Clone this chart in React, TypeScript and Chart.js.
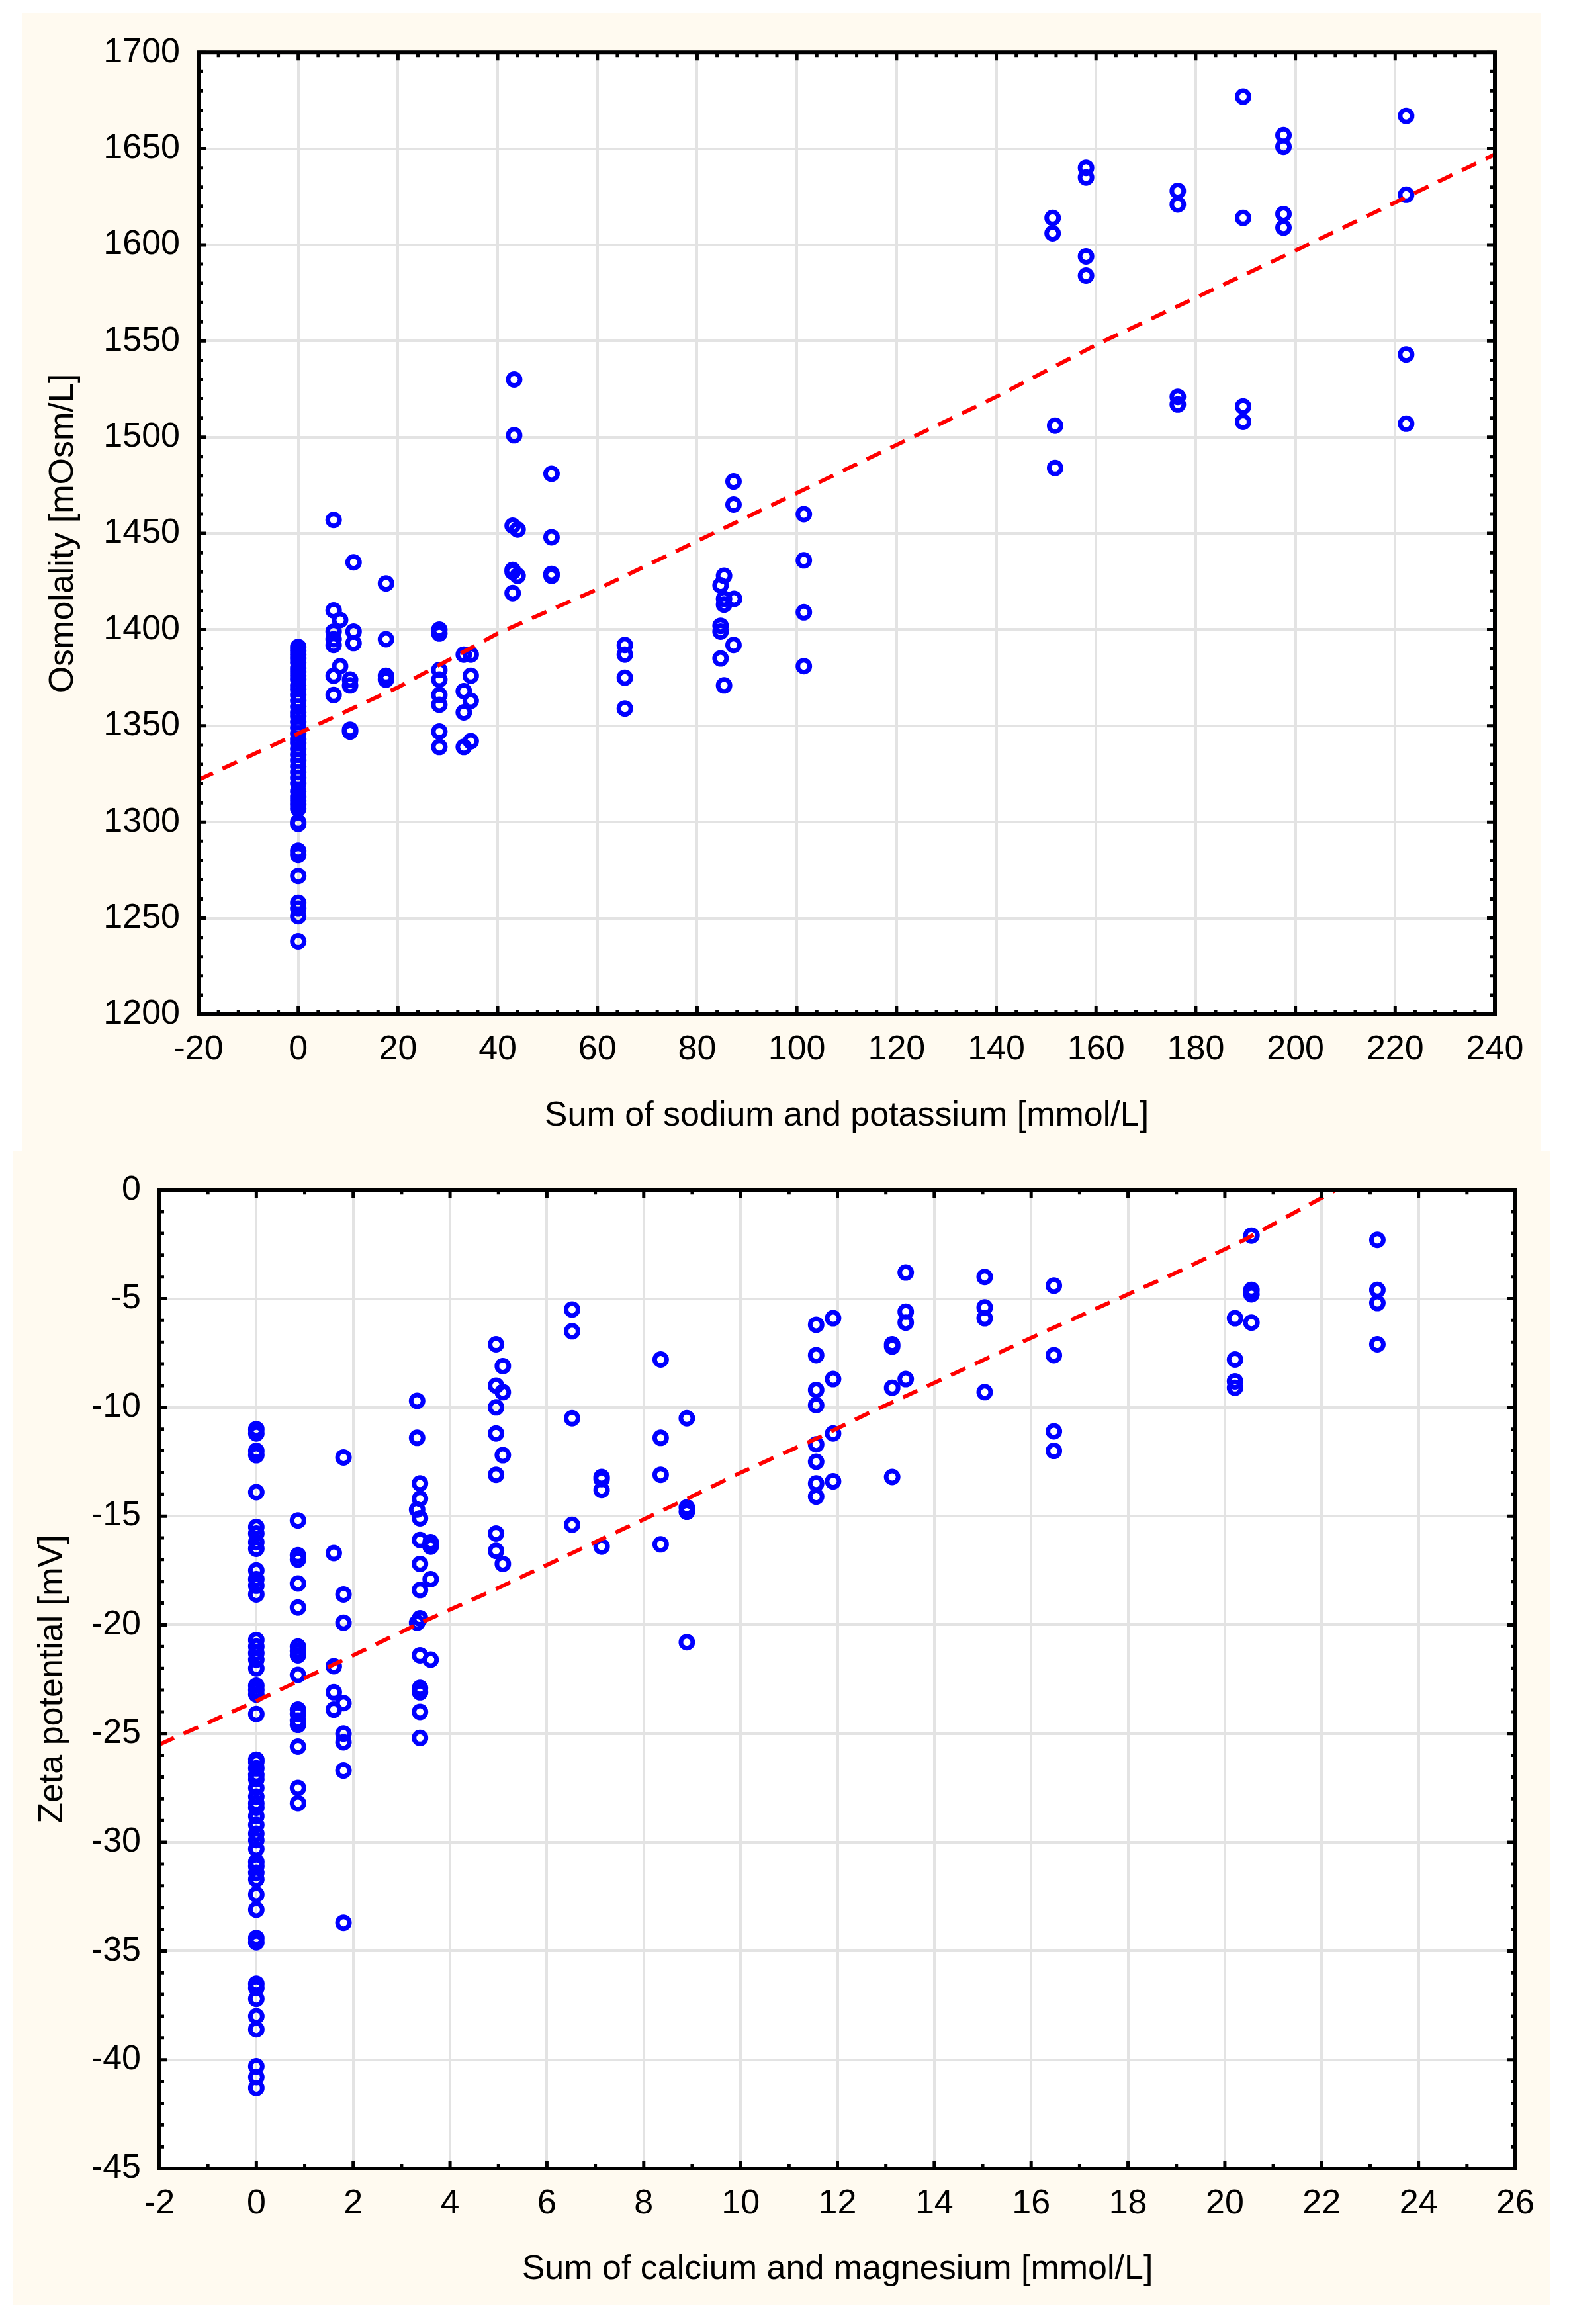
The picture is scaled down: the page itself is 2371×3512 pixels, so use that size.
import { useEffect, useRef } from "react";
import { Chart, registerables } from "chart.js";

Chart.register(...registerables);

const FONT = '"Liberation Sans", Arial, sans-serif';
const CREAM = "#fffaf0";

// ---------- top panel: osmolality [mOsm/L] vs sum of Na + K [mmol/L] ----------
// column at Na+K = 0
const osmAtZero = [
  1391, 1389, 1387, 1385, 1383, 1380, 1378, 1376, 1374, 1371, 1369, 1366, 1363, 1360,
  1357, 1355, 1352, 1349, 1346, 1343, 1341, 1338, 1335, 1332, 1329, 1326, 1323, 1320,
  1316, 1313, 1311, 1309, 1307, 1300, 1299, 1285, 1283, 1272, 1258, 1255, 1251, 1238,
];
const osmLow: [number, number][] = [
  [7.1, 1457], [11.1, 1435], [17.6, 1424], [7.1, 1410], [8.4, 1405], [7.1, 1399],
  [7.1, 1395], [7.1, 1392], [11.1, 1399], [11.1, 1393], [17.6, 1395], [8.4, 1381],
  [7.1, 1376], [10.4, 1374], [10.4, 1371], [7.1, 1366], [17.6, 1376], [17.6, 1374],
  [10.4, 1348], [10.4, 1347],
  [28.3, 1400], [28.3, 1398], [28.3, 1379], [28.3, 1374], [28.3, 1366], [28.3, 1361],
  [28.3, 1347], [28.3, 1339],
  [33.2, 1387], [34.6, 1387], [34.6, 1376], [33.2, 1368], [34.6, 1363], [33.2, 1357],
  [34.6, 1342], [33.2, 1339],
];
const osmMid: [number, number][] = [
  [43.3, 1530], [43.3, 1501], [43, 1454], [44, 1452], [43, 1431], [43, 1430], [44, 1428],
  [43, 1419],
  [50.8, 1481], [50.8, 1448], [50.8, 1429], [50.8, 1428],
  [65.5, 1392], [65.5, 1387], [65.5, 1375], [65.5, 1359],
  [87.3, 1477], [87.3, 1465], [85.4, 1428], [84.7, 1423], [85.4, 1416], [87.4, 1416],
  [85.4, 1413], [84.7, 1402], [84.7, 1399], [87.3, 1392], [84.7, 1385], [85.4, 1371],
  [101.4, 1460], [101.4, 1436], [101.4, 1409], [101.4, 1381],
];
const osmHigh: [number, number][] = [
  [151.3, 1614], [151.3, 1606], [151.8, 1506], [151.8, 1484],
  [158, 1640], [158, 1635], [158, 1594], [158, 1584],
  [176.4, 1628], [176.4, 1621], [176.4, 1521], [176.4, 1517],
  [189.5, 1677], [189.5, 1614], [189.5, 1516], [189.5, 1508],
  [197.6, 1657], [197.6, 1651], [197.6, 1616], [197.6, 1609],
  [222.2, 1667], [222.2, 1626], [222.2, 1543], [222.2, 1507],
];
const osmFitX = [-20, 0, 20, 40, 60, 80, 100, 120, 140, 160, 200, 240];
const osmFitY = [1322, 1346, 1370, 1398, 1421, 1446, 1471, 1496, 1521, 1548, 1597, 1647];

// ---------- bottom panel: zeta potential [mV] vs sum of Ca + Mg [mmol/L] ----------
const zetaAtZero = [
  -11.0, -11.2, -12.0, -12.2, -13.9, -15.5, -15.8, -16.2, -16.5, -17.5, -17.9, -18.2,
  -18.6, -20.7, -21.0, -21.3, -21.6, -22.0, -22.8, -23.0, -23.2, -24.1, -26.2, -26.3,
  -26.6, -26.9, -27.1, -27.5, -27.9, -28.2, -28.4, -28.8, -29.2, -29.6, -29.9, -30.3,
  -30.9, -31.1, -31.4, -31.7, -32.4, -33.1, -34.4, -34.6, -36.5, -36.7, -37.2, -38.0,
  -38.6, -40.3, -40.8, -41.3,
];
const zetaAtOne = [
  -15.2, -16.8, -17.0, -18.1, -19.2, -21.0, -21.2, -21.4, -22.3, -23.9, -24.1, -24.4,
  -24.6, -25.6, -27.5, -28.2,
];
const zetaLow: [number, number][] = [
  [1.6, -16.7], [1.6, -21.9], [1.6, -23.1], [1.6, -23.9],
  [1.8, -12.3], [1.8, -18.6], [1.8, -19.9], [1.8, -23.6], [1.8, -25.0], [1.8, -25.4],
  [1.8, -26.7], [1.8, -33.7],
  [3.32, -9.7], [3.32, -11.4], [3.38, -13.5], [3.38, -14.2], [3.32, -14.7], [3.38, -15.1],
  [3.38, -16.1], [3.6, -16.2], [3.6, -16.4], [3.38, -17.2], [3.6, -17.9], [3.38, -18.4],
  [3.38, -19.7], [3.32, -19.9], [3.38, -21.4], [3.6, -21.6], [3.38, -22.9], [3.38, -23.1],
  [3.38, -24.0], [3.38, -25.2],
];
const zetaMid: [number, number][] = [
  [4.95, -7.1], [5.09, -8.1], [4.95, -9.0], [5.09, -9.3], [4.95, -10.0], [4.95, -11.2],
  [5.09, -12.2], [4.95, -13.1], [4.95, -15.8], [4.95, -16.6], [5.09, -17.2],
  [6.52, -5.5], [6.52, -6.5], [6.52, -10.5], [6.52, -15.4],
  [7.13, -13.2], [7.13, -13.3], [7.13, -13.8], [7.13, -16.4],
  [8.35, -7.8], [8.35, -11.4], [8.35, -13.1], [8.35, -16.3],
  [8.89, -10.5], [8.89, -14.6], [8.89, -14.8], [8.89, -20.8],
];
const zetaHigh: [number, number][] = [
  [11.56, -6.2], [11.56, -7.6], [11.56, -9.2], [11.56, -9.9], [11.56, -11.7], [11.56, -12.5],
  [11.56, -13.5], [11.56, -14.1], [11.91, -5.9], [11.91, -8.7], [11.91, -11.2], [11.91, -13.4],
  [13.13, -7.1], [13.13, -7.2], [13.13, -9.1], [13.13, -13.2],
  [13.41, -3.8], [13.41, -5.6], [13.41, -6.1], [13.41, -8.7],
  [15.04, -4.0], [15.04, -5.4], [15.04, -5.9], [15.04, -9.3],
  [16.47, -4.4], [16.47, -7.6], [16.47, -11.1], [16.47, -12.0],
  [20.21, -5.9], [20.21, -7.8], [20.21, -8.8], [20.21, -9.1],
  [20.55, -2.1], [20.55, -4.6], [20.55, -4.8], [20.55, -6.1],
  [23.15, -2.3], [23.15, -4.6], [23.15, -5.2], [23.15, -7.1],
];
const zetaFitX = [-2, 0, 2, 3.3, 5, 6.9, 8.9, 10, 11.6, 12.7, 13.2, 16, 19, 20.4, 22.3];
const zetaFitY = [-25.5, -23.5, -21.4, -20.0, -18.3, -16.3, -14.2, -13.0, -11.4, -10.2, -9.7, -6.8, -3.8, -2.3, 0];

const toXY = (pairs: [number, number][]) => pairs.map(([x, y]) => ({ x, y }));
const column = (x: number, ys: number[]) => ys.map((y) => ({ x, y }));

// white plot background, black frame and inward tick marks on all four sides
const framePlugin = {
  id: "frame",
  beforeDraw(chart: any) {
    const { ctx, chartArea: a } = chart;
    ctx.save();
    ctx.fillStyle = "#ffffff";
    ctx.fillRect(a.left, a.top, a.width, a.height);
    ctx.restore();
  },
  afterDraw(chart: any, _args: any, opts: any) {
    const { ctx, chartArea: a, scales } = chart;
    ctx.save();
    ctx.strokeStyle = "#000";
    ctx.lineWidth = 5;
    const marks = (scale: any, minor: number, major: number, horiz: boolean) => {
      const n = Math.round((scale.max - scale.min) / minor);
      for (let i = 0; i <= n; i++) {
        const v = scale.min + i * minor;
        const isMajor = Math.abs(v / major - Math.round(v / major)) < 1e-6;
        const len = isMajor ? 12 : 7;
        const p = scale.getPixelForValue(v);
        ctx.beginPath();
        if (horiz) {
          ctx.moveTo(p, a.bottom); ctx.lineTo(p, a.bottom - len);
          ctx.moveTo(p, a.top); ctx.lineTo(p, a.top + len);
        } else {
          ctx.moveTo(a.left, p); ctx.lineTo(a.left + len, p);
          ctx.moveTo(a.right, p); ctx.lineTo(a.right - len, p);
        }
        ctx.stroke();
      }
    };
    marks(scales.x, opts.xMinor, opts.xMajor, true);
    marks(scales.y, opts.yMinor, opts.yMajor, false);
    ctx.lineWidth = 6;
    ctx.strokeRect(a.left, a.top, a.width, a.height);
    ctx.restore();
  },
};

type PanelProps = {
  left: number; top: number; width: number; height: number;
  points: { x: number; y: number }[];
  fitX: number[]; fitY: number[];
  xMin: number; xMax: number; xStep: number; xMinor: number;
  yMin: number; yMax: number; yStep: number; yMinor: number;
  xTitle: string; yTitle: string;
  yAxisWidth: number; xAxisHeight: number; padRight: number;
  xTitlePad: number; yTitlePad: number;
};

function Panel(p: PanelProps) {
  const canvasRef = useRef<HTMLCanvasElement | null>(null);

  useEffect(() => {
    if (!canvasRef.current) return;
    const tickFont = { family: FONT, size: 52 };
    const chart = new Chart(canvasRef.current, {
      type: "scatter",
      data: {
        datasets: [
          {
            data: p.fitX.map((x, i) => ({ x, y: p.fitY[i] })),
            showLine: true,
            borderColor: "#ff0000",
            borderWidth: 6,
            borderDash: [24, 16],
            pointRadius: 0,
            fill: false,
            order: 0,
          },
          {
            data: p.points,
            pointStyle: "circle",
            pointRadius: 9,
            borderWidth: 7,
            borderColor: "#0000ff",
            backgroundColor: "rgba(0,0,0,0)",
            order: 1,
          },
        ],
      },
      options: {
        animation: false,
        responsive: true,
        maintainAspectRatio: false,
        events: [],
        layout: { padding: { top: 54, right: p.padRight, bottom: 0, left: 0 } },
        plugins: {
          legend: { display: false },
          tooltip: { enabled: false },
          frame: { xMinor: p.xMinor, xMajor: p.xStep, yMinor: p.yMinor, yMajor: p.yStep },
        } as any,
        scales: {
          x: {
            type: "linear",
            position: "bottom",
            min: p.xMin,
            max: p.xMax,
            grid: { color: "#e3e3e3", lineWidth: 4, drawTicks: false },
            border: { display: false },
            ticks: {
              stepSize: p.xStep,
              autoSkip: false,
              maxRotation: 0,
              padding: 22,
              color: "#000",
              font: tickFont,
              callback: (v: any) => String(v),
            },
            title: {
              display: true,
              text: p.xTitle,
              color: "#000",
              font: tickFont,
              padding: { top: 0, bottom: p.xTitlePad },
            },
            afterFit: (s: any) => { s.height = p.xAxisHeight; },
          },
          y: {
            type: "linear",
            min: p.yMin,
            max: p.yMax,
            grid: { color: "#e3e3e3", lineWidth: 4, drawTicks: false },
            border: { display: false },
            ticks: {
              stepSize: p.yStep,
              padding: 28,
              color: "#000",
              font: tickFont,
              callback: (v: any) => String(v),
            },
            title: {
              display: true,
              text: p.yTitle,
              color: "#000",
              font: tickFont,
              padding: { top: p.yTitlePad, bottom: 0 },
            },
            afterFit: (s: any) => { s.width = p.yAxisWidth; },
          },
        },
      },
      plugins: [framePlugin],
    });
    return () => chart.destroy();
  }, []);

  return (
    <div
      style={{
        position: "absolute",
        left: p.left,
        top: p.top,
        width: p.width,
        height: p.height,
        background: CREAM,
      }}
    >
      <canvas ref={canvasRef} />
    </div>
  );
}

export default function App() {
  const osmPoints = [...column(0, osmAtZero), ...toXY(osmLow), ...toXY(osmMid), ...toXY(osmHigh)];
  const zetaPoints = [
    ...column(0, zetaAtZero),
    ...column(0.86, zetaAtOne),
    ...toXY(zetaLow),
    ...toXY(zetaMid),
    ...toXY(zetaHigh),
  ];

  return (
    <div style={{ position: "absolute", left: 0, top: 0, width: 2371, height: 3512, background: "#fff" }}>
      <Panel
        left={34} top={20} width={2294} height={1719}
        points={osmPoints} fitX={osmFitX} fitY={osmFitY}
        xMin={-20} xMax={240} xStep={20} xMinor={4}
        yMin={1200} yMax={1700} yStep={50} yMinor={10}
        xTitle="Sum of sodium and potassium [mmol/L]"
        yTitle="Osmolality [mOsm/L]"
        yAxisWidth={266} xAxisHeight={206} padRight={69}
        xTitlePad={21} yTitlePad={30}
      />
      <Panel
        left={20} top={1739} width={2323} height={1745}
        points={zetaPoints} fitX={zetaFitX} fitY={zetaFitY}
        xMin={-2} xMax={26} xStep={2} xMinor={1}
        yMin={-45} yMax={0} yStep={5} yMinor={1}
        xTitle="Sum of calcium and magnesium [mmol/L]"
        yTitle="Zeta potential [mV]"
        yAxisWidth={221} xAxisHeight={207} padRight={53}
        xTitlePad={23} yTitlePad={28}
      />
    </div>
  );
}
